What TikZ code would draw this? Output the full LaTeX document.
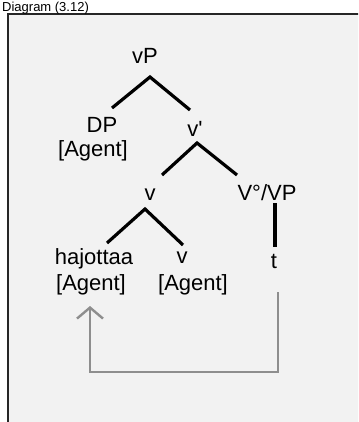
\documentclass[tikz,border=0pt]{standalone}
\usepackage{fontspec}
\setmainfont{Liberation Sans}
\usetikzlibrary{arrows.meta}
\definecolor{panelgray}{HTML}{F2F2F2}
\definecolor{movegray}{HTML}{8E8E8E}
\tikzset{
  lbl/.style={anchor=base, inner sep=0pt, font=\fontsize{22}{26}\selectfont},
  branch/.style={line width=3.2pt, black},
  move/.style={line width=2pt, movegray, -{Straight Barb[length=11pt, width=26pt, line width=2.4pt]}},
}
\begin{document}
\begin{tikzpicture}[x=1pt, y=-1pt,
  panel/.style={draw=black!85, line width=2.5pt, fill=panelgray},
  title/.style={anchor=base west, inner sep=0pt, font=\fontsize{13}{15}\selectfont},
]
  \useasboundingbox (0,0) rectangle (358,422);
  \clip (0,0) rectangle (358,422);
  \fill[white] (0,0) rectangle (358,422);
  \draw[panel] (8,14) rectangle (380,440);
  \node[title] (title) at (2,11.5) {Diagram (3.12)};

  % labels of the tree
  \node[lbl] (vP) at (145,64) {vP};
  \node[lbl] (DP) at (102,132) {DP};
  \node[lbl] (DPagent) at (93,157) {[Agent]};
  \node[lbl] (vbar) at (195,137) {v\textquotesingle};
  \node[lbl] (v) at (150,200) {v};
  \node[lbl] (VP) at (267,200) {V°/VP};
  \node[lbl] (hajottaa) at (94,264) {hajottaa};
  \node[lbl] (hajagent) at (91,290) {[Agent]};
  \node[lbl] (vhead) at (182,263) {v};
  \node[lbl] (vagent) at (193,290) {[Agent]};
  \node[lbl] (t) at (274,268) {t};

  % branches
  \draw[branch] ([shift={(10,-24)}]DP.base) -- ([shift={(5,13)}]vP.base)
    -- ([shift={(-5,-27)}]vbar.base);
  \draw[branch] ([shift={(12,-25)}]v.base) -- ([shift={(2,6)}]vbar.base)
    -- ([shift={(-30,-25)}]VP.base);
  \draw[branch] ([shift={(13,-21)}]hajottaa.base) -- ([shift={(-5,9)}]v.base)
    -- ([shift={(1,-18)}]vhead.base);
  \draw[branch] ([shift={(8,3)}]VP.base) -- ([shift={(1,-21)}]t.base);

  % head movement
  \draw[move] ([shift={(4,24)}]t.base) -- ++(0,80) -| ([shift={(-1,16)}]hajagent.base);
\end{tikzpicture}
\end{document}
